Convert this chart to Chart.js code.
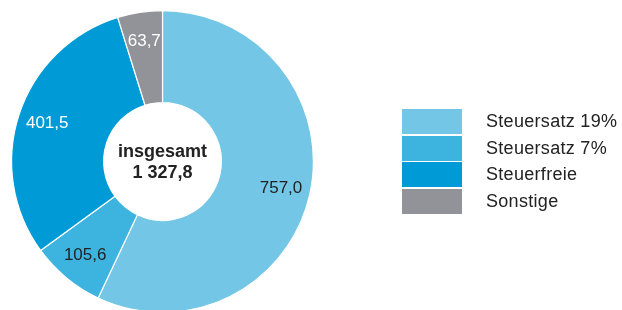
<!DOCTYPE html>
<html>
<head>
<meta charset="utf-8">
<script src="https://cdn.jsdelivr.net/npm/chart.js@4/dist/chart.umd.min.js"></script>
<style>
  body { margin: 0; background: #fff; overflow: hidden; }
  #wrap { position: relative; width: 622px; height: 310px; overflow: hidden; }
  #legend { position: absolute; left: 402px; top: 109px; font-family: "Liberation Sans", Arial, sans-serif; font-size: 18px; letter-spacing: 0.3px; color: #222; }
  .item { display: flex; align-items: center; height: 25px; margin-bottom: 1.5px; }
  .box { width: 60px; height: 25px; margin-right: 24px; }
</style>
</head>
<body>
<div id="wrap">
  <canvas id="donut" width="622" height="314"></canvas>
  <div id="legend"></div>
</div>
<script>
const categories = ['Steuersatz 19%', 'Steuersatz 7%', 'Steuerfreie', 'Sonstige'];
const values = [757.0, 105.6, 401.5, 63.7];
const colors = ['#74c6e6', '#3db4e0', '#009bd6', '#929398'];
const labelColors = ['#222', '#222', '#fff', '#fff'];
const totalLabel = ['insgesamt', '1 327,8'];

const fmt = v => v.toFixed(1).replace('.', ',');

// labels inside each slice + total in the middle
const sliceLabels = {
  id: 'sliceLabels',
  afterDatasetsDraw(chart) {
    const ctx = chart.ctx;
    const meta = chart.getDatasetMeta(0);
    ctx.save();
    ctx.textAlign = 'center';
    ctx.textBaseline = 'middle';
    ctx.font = '17px "Liberation Sans", Arial, sans-serif';
    meta.data.forEach((arc, i) => {
      const p = arc.getProps(['x', 'y', 'startAngle', 'endAngle', 'innerRadius', 'outerRadius'], true);
      const a = (p.startAngle + p.endAngle) / 2;
      const r = p.innerRadius + (p.outerRadius - p.innerRadius) * 0.68;
      ctx.fillStyle = labelColors[i];
      ctx.fillText(fmt(values[i]), p.x + Math.cos(a) * r, p.y + Math.sin(a) * r);
    });
    const c = meta.data[0];
    ctx.fillStyle = '#222';
    ctx.font = 'bold 18px "Liberation Sans", Arial, sans-serif';
    ctx.fillText(totalLabel[0], c.x, c.y - 9);
    ctx.fillText(totalLabel[1], c.x, c.y + 12);
    ctx.restore();
  }
};

new Chart(document.getElementById('donut'), {
  type: 'doughnut',
  data: {
    labels: categories,
    datasets: [{
      data: values,
      backgroundColor: colors,
      borderColor: '#fff',
      borderWidth: 1.2
    }]
  },
  options: {
    responsive: false,
    animation: false,
    cutout: '39%',
    layout: { padding: { left: 11, top: 10, right: 308, bottom: 1 } },
    plugins: { legend: { display: false }, tooltip: { enabled: false } }
  },
  plugins: [sliceLabels]
});

const legend = document.getElementById('legend');
categories.forEach((c, i) => {
  legend.innerHTML += `<div class="item"><div class="box" style="background:${colors[i]}"></div>${c}</div>`;
});
</script>
</body>
</html>
